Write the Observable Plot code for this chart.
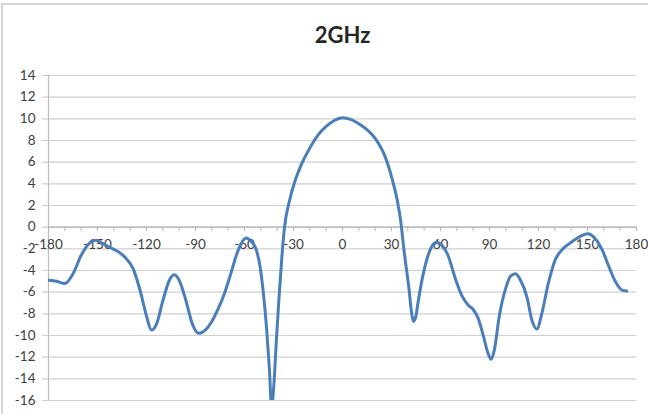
<!DOCTYPE html>
<html>
<head>
<meta charset="utf-8">
<script src="https://cdn.jsdelivr.net/npm/d3@7"></script>
<script src="https://cdn.jsdelivr.net/npm/@observablehq/plot@0.6"></script>
<style>
  html, body { margin: 0; padding: 0; background: #fff; }
  #wrap { position: relative; width: 648px; height: 414px; overflow: hidden; }
  #frame { position: absolute; left: 1px; top: 3px; width: 700px; height: 500px;
           border-top: 2px solid #d6d6d6; border-left: 2px solid #d6d6d6; pointer-events: none; }
</style>
</head>
<body>
<div id="wrap"><div id="frame"></div></div>
<script>
const title = "2GHz";
const angles = [-180,-175,-170,-165,-160,-155,-151,-147,-142,-137,-133,-128,-124,-120,-117,-114,-110,-106,-103,-100,-96,-92,-88,-84,-80,-76,-72,-68,-65,-62,-59,-56,-53,-50.5,-48.5,-46.5,-44.8,-43.4,-42,-40.5,-39,-37.2,-35.5,-32.5,-29,-26,-20,-15,-10,-5,0,5,10,15,20,25,28,31,33.5,35.6,37.7,40.7,42.2,43.4,44.8,46.3,48,52,55,57.7,61,64.3,69.4,73,77,80,83,86,89,91,93,96,100,103,106,109,113,116,119,122,126,130,135,140,145,150,155,159,163,167,171,174];
const gains  = [-4.9,-5.0,-5.2,-4.3,-2.6,-1.5,-1.2,-1.5,-1.9,-2.3,-2.8,-3.9,-5.8,-8.2,-9.5,-9.0,-6.8,-4.9,-4.4,-4.9,-6.7,-8.9,-9.8,-9.5,-8.7,-7.5,-6.0,-4.1,-2.6,-1.5,-1.0,-1.3,-2.0,-3.6,-6.0,-9.3,-13.0,-16.6,-14.5,-10.5,-6.8,-2.9,0.0,2.4,4.3,5.5,7.3,8.5,9.3,9.85,10.1,9.95,9.55,9.0,8.2,6.9,5.7,4.1,2.5,0.6,-2.2,-5.7,-7.8,-8.7,-8.3,-6.9,-5.4,-2.8,-1.7,-1.4,-1.7,-2.5,-4.9,-6.3,-7.2,-7.6,-8.4,-9.9,-11.6,-12.2,-11.3,-8.2,-5.6,-4.5,-4.3,-4.9,-6.5,-8.6,-9.4,-8.0,-5.2,-3.1,-2.0,-1.4,-0.9,-0.6,-1.1,-2.1,-3.6,-5.0,-5.8,-5.9];
const xLabels = [-180,-150,-120,-90,-60,-30,0,30,60,90,120,150,180];
const xMinorTicks = d3.range(-180, 181, 10);
const yTicks = d3.range(-16, 15, 2);

const data = angles.map((a, i) => ({angle: a, gain: gains[i]}));

const chart = Plot.plot({
  width: 648,
  height: 414,
  marginLeft: 48,
  marginRight: 12,
  marginTop: 75,
  marginBottom: 14,
  style: {fontFamily: "Lato, 'Open Sans', sans-serif", fontSize: "13px", color: "#404040", background: "transparent"},
  x: {domain: [-180, 180], axis: null},
  y: {domain: [-16, 14], axis: null},
  marks: [
    Plot.gridY(yTicks, {stroke: "#cfcfcf", strokeOpacity: 1, strokeWidth: 1.2, insetLeft: -6}),
    Plot.axisY(yTicks, {tickSize: 0, tickPadding: 13, label: null, fill: "#404040", fontSize: 13.5, tickFormat: d => String(d)}),
    Plot.ruleX([-180], {stroke: "#bdbdbd", strokeWidth: 1.2}),
    Plot.ruleY([0], {stroke: "#b5b5b5", strokeWidth: 1.2}),
    Plot.ruleX(xMinorTicks, {x: d => d, y1: 0, y2: -0.4, stroke: "#b5b5b5", strokeWidth: 1}),
    Plot.text(xLabels, {x: d => d, y: 0, dy: 18, text: d => String(d), fill: "#404040", fontSize: 13.5}),
    Plot.line(data, {x: "angle", y: "gain", stroke: "#4a7ebb", strokeWidth: 3, curve: "monotone-x", clip: true}),
    Plot.text([title], {frameAnchor: "top", lineAnchor: "middle", dy: -40, text: d => d, fontSize: 22, fontWeight: "bold", fill: "#262626"})
  ]
});
document.getElementById("wrap").prepend(chart);
chart.style.position = "absolute";
chart.style.left = "0";
chart.style.top = "0";
</script>
</body>
</html>
